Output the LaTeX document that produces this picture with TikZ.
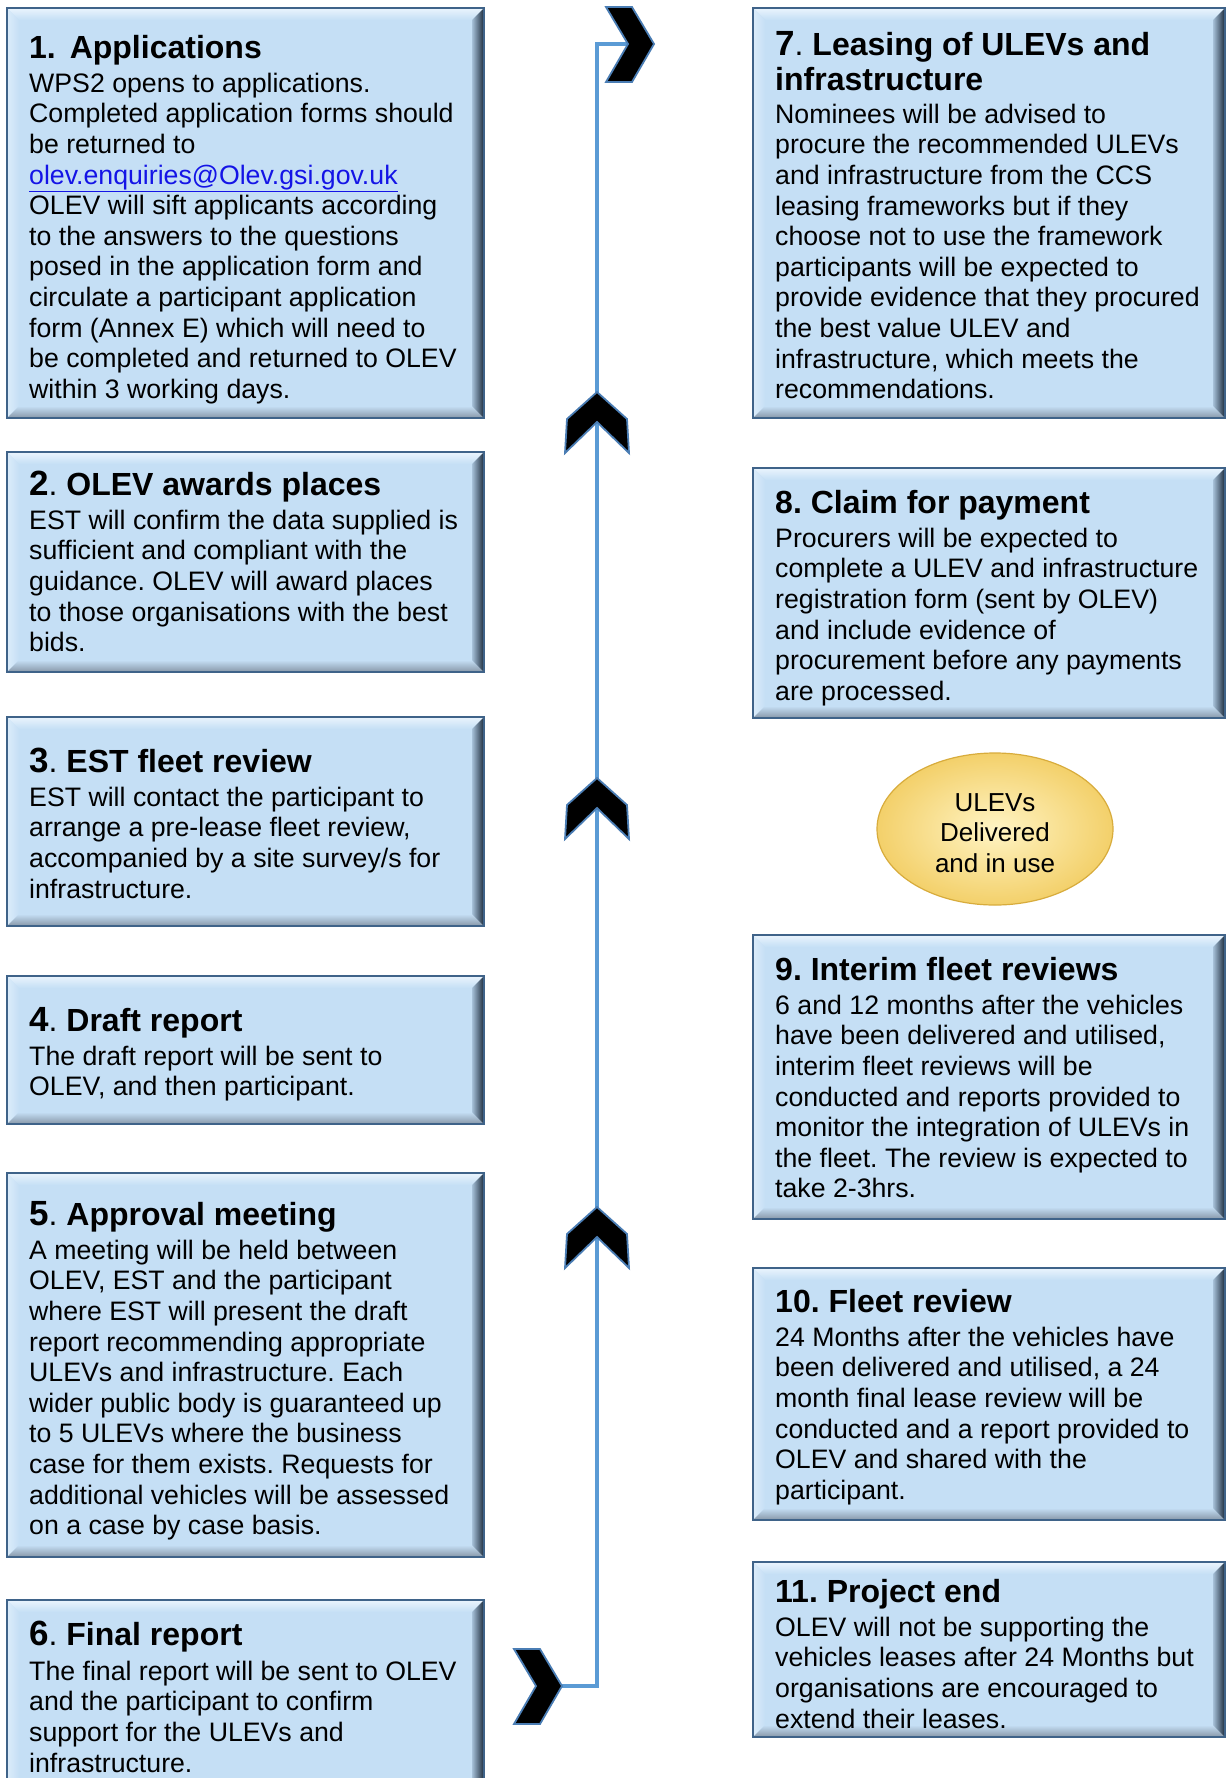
\documentclass[tikz,border=0pt]{standalone}
\usepackage{fontspec}
\setmainfont{Liberation Sans}
\usetikzlibrary{calc,shapes.geometric}
\frenchspacing

% panel colours
\definecolor{face}{HTML}{C5DFF5}
\definecolor{bevtop}{HTML}{EAF4FD}
\definecolor{bevleft}{HTML}{DCECFA}
\definecolor{bevbot}{HTML}{8797A8}
\definecolor{bevrin}{HTML}{A6C0D8}
\definecolor{bevright}{HTML}{1B2A3B}
\definecolor{rim}{HTML}{3F6389}
% connector colours
\definecolor{flowblue}{HTML}{5B9BD5}
\definecolor{chevrim}{HTML}{4A7DB4}
\definecolor{linkblue}{HTML}{1414E6}
% oval colours
\definecolor{goldin}{HTML}{FFF4C4}
\definecolor{goldout}{HTML}{F3D06A}
\definecolor{goldrim}{HTML}{D8AC3C}

\newcommand\bev{12pt}
\newcommand\bodyfont{\fontsize{26.7}{30.6}\selectfont}
\newcommand\titlefont{\fontsize{32}{35}\selectfont\bfseries}
\newcommand\stepno[1]{{\fontsize{35}{35}\selectfont #1}{\mdseries.}}
\newcommand\bstrut{\rule{0pt}{22pt}}
\newcommand\tstrut{\rule{0pt}{26pt}}

% bevelled panel: name, x1, y1, x2, y2 (pixel grid, y downwards)
\newcommand\panel[5]{%
  \node[panelbox, minimum width={(#4-#2)*1pt}, minimum height={(#5-#3)*1pt}]
    (#1) at (#2,#3) {};
  \coordinate (#1 inw) at ($(#1.north west)+(\bev,-\bev)$);
  \coordinate (#1 ine) at ($(#1.north east)+(-\bev,-\bev)$);
  \coordinate (#1 ise) at ($(#1.south east)+(-\bev,\bev)$);
  \coordinate (#1 isw) at ($(#1.south west)+(\bev,\bev)$);
  \shade[top color=bevtop, bottom color=face]
    (#1.north west) -- (#1.north east) -- (#1 ine) -- (#1 inw) -- cycle;
  \shade[left color=bevleft, right color=face]
    (#1.north west) -- (#1 inw) -- (#1 isw) -- (#1.south west) -- cycle;
  \shade[top color=face, bottom color=bevbot]
    (#1 isw) -- (#1 ise) -- (#1.south east) -- (#1.south west) -- cycle;
  \shade[left color=bevrin, right color=bevright]
    (#1 ine) -- (#1.north east) -- (#1.south east) -- (#1 ise) -- cycle;
  \draw[rim, line width=1.6pt] (#1.north west) rectangle (#1.south east);
}

% chevrons, drawn relative to their tip
\newcommand\chevup[1]{%
  \filldraw[chev, shift={(#1)}] (0,0) -- (30,27) -- (32,61) -- (0,30)
    -- (-32,61) -- (-30,27) -- cycle;}
\newcommand\chevright[1]{%
  \filldraw[chev, shift={(#1)}] (0,0) -- (-22,-37) -- (-48,-37) -- (-26,0)
    -- (-48,38) -- (-22,38) -- cycle;}

\begin{document}
\begin{tikzpicture}[x=1pt, y=-1pt,
  panelbox/.style={rectangle, anchor=north west, fill=face, draw=none,
    inner sep=0pt, outer sep=0pt},
  title/.style={anchor=north west, inner sep=0pt, align=left, font=\titlefont},
  body/.style={anchor=north west, inner sep=0pt, align=left, font=\bodyfont},
  flow/.style={draw=flowblue, line width=4pt},
  chev/.style={fill=black, draw=chevrim, line width=1.8pt, line join=miter},
  oval/.style={ellipse, minimum width=236pt, minimum height=152pt,
    inner color=goldin, outer color=goldout, draw=goldrim, line width=1.2pt},
  ovaltext/.style={inner sep=0pt, align=center,
    font=\fontsize{26}{30.5}\selectfont}]

\useasboundingbox (0,0) rectangle (1227,1778);
\clip (0,0) rectangle (1227,1778);
\fill[white] (0,0) rectangle (1227,1778);

% ---------------- left column ----------------
\panel{p1}{7}{8}{484}{418}
\node[title] (t1) at (29,32) {\tstrut 1.\hspace{5pt} Applications};
\node[body] (b1) at (29,70) {\bstrut WPS2 opens to applications.\\
Completed application forms should\\
be returned to\\
\textcolor{linkblue}{\underline{olev.enquiries@Olev.gsi.gov.uk}}\\
OLEV will sift applicants according\\
to the answers to the questions\\
posed in the application form and\\
circulate a participant application\\
form (Annex E) which will need to\\
be completed and returned to OLEV\\
within 3 working days.};

\panel{p2}{7}{452}{484}{672}
\node[title] (t2) at (29,469) {\tstrut\stepno{2} OLEV awards places};
\node[body] (b2) at (29,507) {\bstrut EST will confirm the data supplied is\\
sufficient and compliant with the\\
guidance. OLEV will award places\\
to those organisations with the best\\
bids.};

\panel{p3}{7}{717}{484}{926}
\node[title] (t3) at (29,746) {\tstrut\stepno{3} EST fleet review};
\node[body] (b3) at (29,784) {\bstrut EST will contact the participant to\\
arrange a pre-lease fleet review,\\
accompanied by a site survey/s for\\
infrastructure.};

\panel{p4}{7}{976}{484}{1124}
\node[title] (t4) at (29,1005) {\tstrut\stepno{4} Draft report};
\node[body] (b4) at (29,1043) {\bstrut The draft report will be sent to\\
OLEV, and then participant.};

\panel{p5}{7}{1173}{484}{1557}
\node[title] (t5) at (29,1199) {\tstrut\stepno{5} Approval meeting};
\node[body] (b5) at (29,1237) {\bstrut A meeting will be held between\\
OLEV, EST and the participant\\
where EST will present the draft\\
report recommending appropriate\\
ULEVs and infrastructure. Each\\
wider public body is guaranteed up\\
to 5 ULEVs where the business\\
case for them exists. Requests for\\
additional vehicles will be assessed\\
on a case by case basis.};

\panel{p6}{7}{1600}{484}{1800}
\node[title] (t6) at (29,1619) {\tstrut\stepno{6} Final report};
\node[body] (b6) at (29,1658) {\bstrut The final report will be sent to OLEV\\
and the participant to confirm\\
support for the ULEVs and\\
infrastructure.};

% ---------------- right column ----------------
\panel{p7}{753}{8}{1225}{418}
\node[title] (t7) at (775,29) {\tstrut\stepno{7} Leasing of ULEVs and\\infrastructure};
\node[body] (b7) at (775,101) {\bstrut Nominees will be advised to\\
procure the recommended ULEVs\\
and infrastructure from the CCS\\
leasing frameworks but if they\\
choose not to use the framework\\
participants will be expected to\\
provide evidence that they procured\\
the best value ULEV and\\
infrastructure, which meets the\\
recommendations.};

\panel{p8}{753}{468}{1225}{718}
\node[title] (t8) at (775,487) {\tstrut 8. Claim for payment};
\node[body] (b8) at (775,525) {\bstrut Procurers will be expected to\\
complete a ULEV and infrastructure\\
registration form (sent by OLEV)\\
and include evidence of\\
procurement before any payments\\
are processed.};

\node[oval] (deliv) at (995,829) {};
\node[ovaltext] (delivtext) at (995,833) {ULEVs\\Delivered\\and in use};

\panel{p9}{753}{935}{1225}{1219}
\node[title] (t9) at (775,954) {\tstrut 9. Interim fleet reviews};
\node[body] (b9) at (775,992) {\bstrut 6 and 12 months after the vehicles\\
have been delivered and utilised,\\
interim fleet reviews will be\\
conducted and reports provided to\\
monitor the integration of ULEVs in\\
the fleet. The review is expected to\\
take 2-3hrs.};

\panel{p10}{753}{1268}{1225}{1520}
\node[title] (t10) at (775,1286) {\tstrut 10. Fleet review};
\node[body] (b10) at (775,1324) {\bstrut 24 Months after the vehicles have\\
been delivered and utilised, a 24\\
month final lease review will be\\
conducted and a report provided to\\
OLEV and shared with the\\
participant.};

\panel{p11}{753}{1562}{1225}{1737}
\node[title] (t11) at (775,1576) {\tstrut 11. Project end};
\node[body] (b11) at (775,1614) {\bstrut OLEV will not be supporting the\\
vehicles leases after 24 Months but\\
organisations are encouraged to\\
extend their leases.};

% ---------------- flow line with chevrons ----------------
\coordinate (inlet) at (562,1686);
\coordinate (outlet) at (628,44);
\coordinate (spine) at (597,0);
\draw[flow] (inlet) -- (inlet -| spine) -- (outlet -| spine) -- (outlet);

\chevright{562,1686}
\chevup{597,1207}
\chevup{597,778}
\chevup{597,392}
\chevright{654,44}

\end{tikzpicture}
\end{document}
